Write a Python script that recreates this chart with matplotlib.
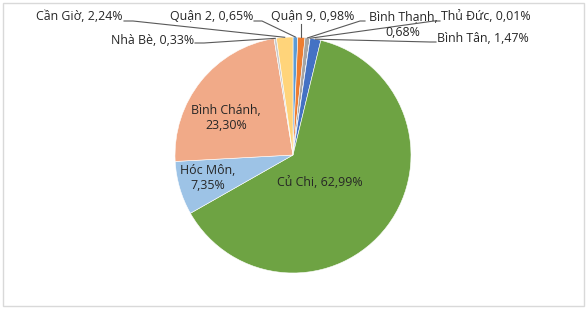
import matplotlib.pyplot as plt
from matplotlib.patches import Rectangle
import numpy as np

plt.rcParams['font.family'] = ['Open Sans', 'DejaVu Sans']

districts = ['Quận 2', 'Quận 9', 'Bình Thạnh', 'Thủ Đức', 'Bình Tân',
             'Củ Chi', 'Hóc Môn', 'Bình Chánh', 'Nhà Bè', 'Cần Giờ']
shares = [0.65, 0.98, 0.68, 0.01, 1.47, 62.99, 7.35, 23.30, 0.33, 2.24]
colors = ['#5b9bd5', '#ed7d31', '#a5a5a5', '#ffc000', '#4472c4',
          '#6ea343', '#9dc3e6', '#f1aa88', '#c9c9c9', '#ffd47a']

# label layout in pixel coords (x, y, ha, elbow x, elbow y) ; None elbow = inside label
layout = {
    'Quận 2': (253, 17, 'right', 262, 21),
    'Quận 9': (313, 17, 'center', None, 24),
    'Bình Thạnh': (403, 25, 'center', 360, 21),
    'Thủ Đức': (441, 17, 'left', 434, 21),
    'Bình Tân': (437, 39, 'left', 430, 42),
    'Củ Chi': (320, 182, 'center', None, None),
    'Hóc Môn': (208, 178, 'center', None, None),
    'Bình Chánh': (226, 118, 'center', None, None),
    'Nhà Bè': (194, 41, 'right', 204, 43),
    'Cần Giờ': (123, 17, 'right', 133, 21),
}
W, H = 588, 309
cx, cy, r = 293, 155, 118

fig = plt.figure(figsize=(W / 100, H / 100), dpi=100)
ax = fig.add_axes([0, 0, 1, 1])
wedges, _ = ax.pie(shares, colors=colors, startangle=90, counterclock=False,
                   center=(cx, H - cy), radius=r,
                   wedgeprops=dict(edgecolor='white', linewidth=0.4))
ax.set_xlim(0, W)
ax.set_ylim(0, H)
ax.set_aspect('auto')
ax.axis('off')

ax.add_patch(Rectangle((3, 3), 581, 303, fill=False, edgecolor='#d9d9d9', lw=1))

for name, v, w in zip(districts, shares, wedges):
    pct = f'{v:.2f}'.replace('.', ',')
    x, y, ha, ex, ey = layout[name]
    if name in ('Bình Chánh', 'Hóc Môn', 'Bình Thạnh'):
        txt = f'{name},\n{pct}%'
    else:
        txt = f'{name}, {pct}%'
    ax.text(x, H - y, txt, ha=ha, va='center', fontsize=8.9, color='#262626',
            linespacing=1.15, multialignment='center')
    if ey is None:
        continue
    mid = np.deg2rad((w.theta1 + w.theta2) / 2)
    px = cx + r * np.cos(mid)
    py = (H - cy) + r * np.sin(mid)
    if ex is None:
        xs, ys = [px, px], [H - ey, py]
    else:
        if ha == 'right':
            sx = x + 1
        elif ha == 'left':
            sx = x - 1
        else:
            sx = x - 38
        xs, ys = [sx, ex, px], [H - ey, H - ey, py]
    ax.plot(xs, ys, color='#595959', lw=0.8)

fig.savefig('out.png', dpi=100)
